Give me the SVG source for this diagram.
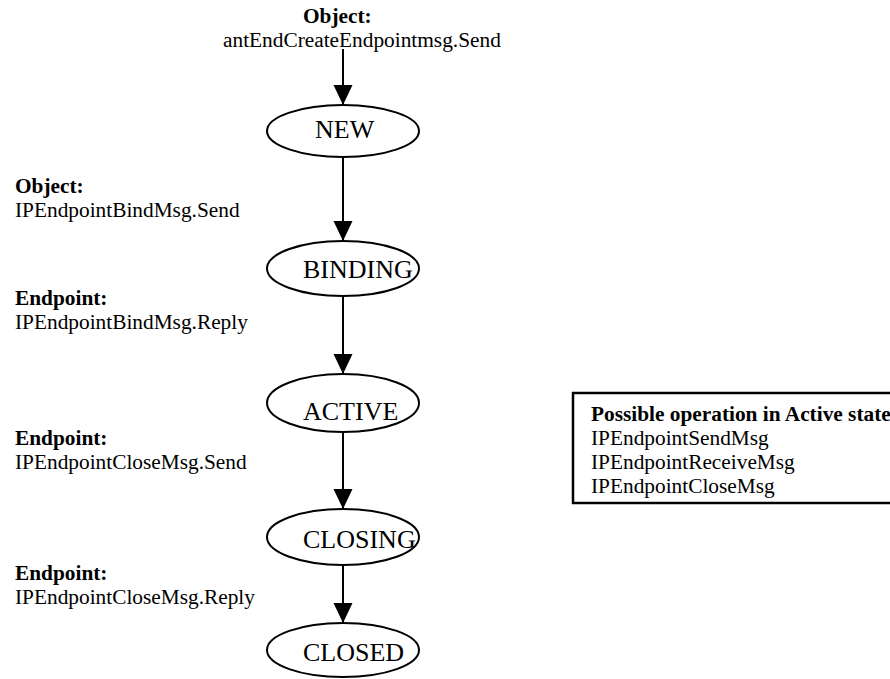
<svg xmlns="http://www.w3.org/2000/svg" width="890" height="679" viewBox="0 0 890 679">
  <style>
    text { font-family: "Liberation Serif", "Times New Roman", serif; fill: #000; }
    .lbl { font-size: 21.33px; }
    .b { font-weight: bold; }
    .state ellipse { fill: none; stroke: #000; stroke-width: 2; }
    .state text { font-size: 26px; }
    .edges line { stroke: #000; stroke-width: 2; }
  </style>
  <defs>
    <marker id="arrow" markerWidth="20" markerHeight="20" viewBox="0 0 20 20" refX="20" refY="10" orient="auto" markerUnits="userSpaceOnUse">
      <path d="M0,0.5 L20,10 L0,19.5 Z" fill="#000"/>
    </marker>
  </defs>
  <rect width="890" height="679" fill="#fff"/>

  <!-- initial trigger -->
  <g id="start-label">
    <text class="lbl b" x="303" y="23">Object:</text>
    <text class="lbl" x="223" y="47">antEndCreateEndpointmsg.Send</text>
  </g>

  <!-- connectors -->
  <g class="edges">
    <line x1="343" y1="49" x2="343" y2="105" marker-end="url(#arrow)"/>
    <line x1="343" y1="157" x2="343" y2="241" marker-end="url(#arrow)"/>
    <line x1="343" y1="296" x2="343" y2="374" marker-end="url(#arrow)"/>
    <line x1="343" y1="432" x2="343" y2="509" marker-end="url(#arrow)"/>
    <line x1="343" y1="565" x2="343" y2="623" marker-end="url(#arrow)"/>
  </g>

  <!-- states -->
  <g id="NEW" class="state">
    <ellipse cx="343" cy="131" rx="76" ry="26"/>
    <text x="315" y="138">NEW</text>
  </g>
  <g id="BINDING" class="state">
    <ellipse cx="343" cy="268.5" rx="76" ry="27.5"/>
    <text x="303" y="278">BINDING</text>
  </g>
  <g id="ACTIVE" class="state">
    <ellipse cx="343" cy="403" rx="76" ry="29"/>
    <text x="303" y="420">ACTIVE</text>
  </g>
  <g id="CLOSING" class="state">
    <ellipse cx="343" cy="537" rx="76" ry="28"/>
    <text x="303" y="548">CLOSING</text>
  </g>
  <g id="CLOSED" class="state">
    <ellipse cx="343" cy="650" rx="76" ry="27"/>
    <text x="303" y="661">CLOSED</text>
  </g>

  <!-- transition labels -->
  <g id="label-bind-send">
    <text class="lbl b" x="15" y="193">Object:</text>
    <text class="lbl" x="15" y="217">IPEndpointBindMsg.Send</text>
  </g>
  <g id="label-bind-reply">
    <text class="lbl b" x="15" y="305">Endpoint:</text>
    <text class="lbl" x="15" y="329">IPEndpointBindMsg.Reply</text>
  </g>
  <g id="label-close-send">
    <text class="lbl b" x="15" y="445">Endpoint:</text>
    <text class="lbl" x="15" y="469">IPEndpointCloseMsg.Send</text>
  </g>
  <g id="label-close-reply">
    <text class="lbl b" x="15" y="580">Endpoint:</text>
    <text class="lbl" x="15" y="604">IPEndpointCloseMsg.Reply</text>
  </g>

  <!-- operations available while active -->
  <g id="active-ops">
    <rect x="573" y="393" width="340" height="110" fill="none" stroke="#000" stroke-width="2.5"/>
    <text class="lbl b" x="591" y="421">Possible operation in Active state</text>
    <text class="lbl" x="591" y="445">IPEndpointSendMsg</text>
    <text class="lbl" x="591" y="469">IPEndpointReceiveMsg</text>
    <text class="lbl" x="591" y="493">IPEndpointCloseMsg</text>
  </g>
</svg>
